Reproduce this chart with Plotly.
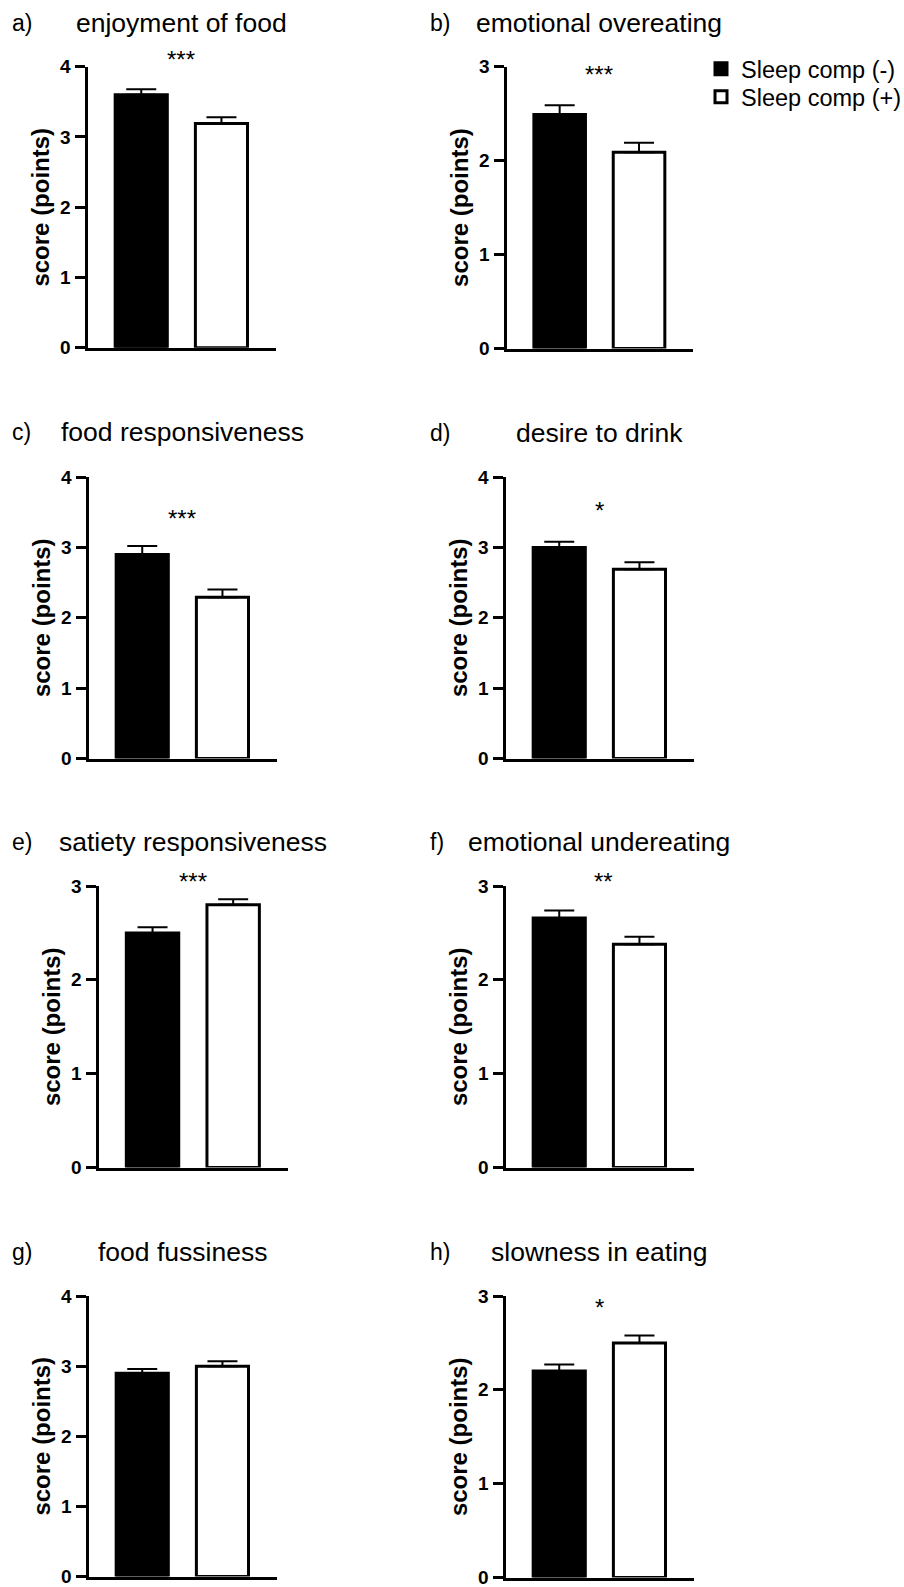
import plotly.graph_objects as go

# ---------------- data ----------------
panel_labels = ["a)", "b)", "c)", "d)", "e)", "f)", "g)", "h)"]
titles = ["enjoyment of food", "emotional overeating", "food responsiveness",
          "desire to drink", "satiety responsiveness", "emotional undereating",
          "food fussiness", "slowness in eating"]
groups = ["Sleep comp (-)", "Sleep comp (+)"]
mean_neg = [3.60, 2.49, 2.90, 3.00, 2.50, 2.66, 2.90, 2.20]
sem_neg = [0.08, 0.10, 0.12, 0.08, 0.06, 0.08, 0.06, 0.07]
mean_pos = [3.19, 2.09, 2.29, 2.69, 2.80, 2.38, 3.00, 2.50]
sem_pos = [0.09, 0.10, 0.11, 0.10, 0.06, 0.08, 0.07, 0.08]
y_max = [4, 3, 4, 4, 3, 3, 4, 3]
significance = ["***", "***", "***", "*", "***", "**", "", "*"]
y_title = "score (points)"

# ---------------- layout geometry (pixels) ----------------
W, H = 904, 1587
x_dom_px = [(87.5, 276), (506.5, 693), (88.5, 277), (505.5, 694),
            (98.5, 288), (505.5, 694), (88.5, 277), (505.5, 694)]
y_dom_px = [(66.7, 347.8), (66.7, 348.5), (477, 758.5), (477, 758.5),
            (886, 1167.5), (886, 1167.5), (1296, 1576.5), (1296, 1577.5)]
title_y_px = [22.5, 23, 432, 433, 842, 842, 1252, 1252]
label_x_px = [10, 428, 10, 428, 10, 428, 10, 428]
sig_y_px = [59, 74, 518, 510, 881, 881, 0, 1307]
sig_x = [0.5, 0.5, 0.5, 0.5, 0.5, 0.55, 0.5, 0.5]
legend_top_px = [47, 75]

FONT = "Liberation Sans, Arial, sans-serif"

fig = go.Figure()
legend_style = dict(x=701 / W, xanchor="left", yanchor="top",
                    font=dict(family=FONT, size=23.5, color="black"),
                    bgcolor="rgba(0,0,0,0)", borderwidth=0)
layout = dict(
    template="none",
    width=W, height=H, autosize=False,
    margin=dict(l=0, r=0, t=0, b=0, pad=0, autoexpand=False),
    paper_bgcolor="white", plot_bgcolor="white",
    barmode="overlay",
    font=dict(family=FONT, color="black"),
    showlegend=True,
    legend=dict(legend_style, y=1 - legend_top_px[0] / H),
    legend2=dict(legend_style, y=1 - legend_top_px[1] / H),
)
annotations = []

for i in range(8):
    k = i + 1
    sfx = "" if k == 1 else str(k)
    xa, ya = "x" + sfx, "y" + sfx
    fig.add_trace(go.Bar(
        x=[0], y=[mean_neg[i]], width=0.65, name=groups[0], legendgroup="neg",
        legend="legend", showlegend=(i == 0), xaxis=xa, yaxis=ya,
        marker=dict(color="black", line=dict(color="black", width=3)),
        error_y=dict(type="data", symmetric=False, array=[sem_neg[i]], arrayminus=[0],
                     color="black", thickness=2, width=15),
    ))
    fig.add_trace(go.Bar(
        x=[1], y=[mean_pos[i]], width=0.65, name=groups[1], legendgroup="pos",
        legend="legend2", showlegend=(i == 0), xaxis=xa, yaxis=ya,
        marker=dict(color="white", line=dict(color="black", width=3)),
        error_y=dict(type="data", symmetric=False, array=[sem_pos[i]], arrayminus=[0],
                     color="black", thickness=2, width=15),
    ))
    x0, x1 = x_dom_px[i]
    y0, y1 = y_dom_px[i]
    layout["xaxis" + sfx] = dict(
        domain=[x0 / W, x1 / W], anchor=ya, range=[-0.67, 1.68], automargin=False,
        showline=True, linewidth=3, linecolor="black", showticklabels=False,
        ticks="", showgrid=False, zeroline=False, fixedrange=True,
    )
    layout["yaxis" + sfx] = dict(
        domain=[1 - y1 / H, 1 - y0 / H], anchor=xa, range=[0, y_max[i]], automargin=False,
        tick0=0, dtick=1, showline=True, linewidth=3, linecolor="black",
        ticks="outside", ticklen=10, tickwidth=3, tickcolor="black",
        ticklabeloverflow="allow",
        tickfont=dict(family=FONT, size=19, color="black", weight="bold"),
        showgrid=False, zeroline=False, fixedrange=True,
        title=dict(text=y_title, standoff=4,
                   font=dict(family=FONT, size=24, color="black", weight="bold")),
    )
    # panel label
    annotations.append(dict(
        text=panel_labels[i], xref="paper", yref="paper",
        x=label_x_px[i] / W, y=1 - title_y_px[i] / H, xanchor="left", yanchor="middle",
        showarrow=False, font=dict(family=FONT, size=23, color="black")))
    # panel title centred over the bars
    annotations.append(dict(
        text=titles[i], xref=xa, yref="paper", x=0.5, y=1 - title_y_px[i] / H,
        xanchor="center", yanchor="middle", showarrow=False,
        font=dict(family=FONT, size=26.5, color="black")))
    # significance
    if significance[i]:
        frac = (y1 - sig_y_px[i]) / (y1 - y0)
        annotations.append(dict(
            text=significance[i], xref=xa, yref=ya + " domain", x=sig_x[i], y=frac,
            xanchor="center", yanchor="middle", showarrow=False,
            font=dict(family=FONT, size=24, color="black")))

layout["annotations"] = annotations
fig.update_layout(**layout)
fig.write_html("out.html",
               config={"displayModeBar": False},
               post_script="document.body.style.margin='0px';document.body.style.overflow='hidden';")
